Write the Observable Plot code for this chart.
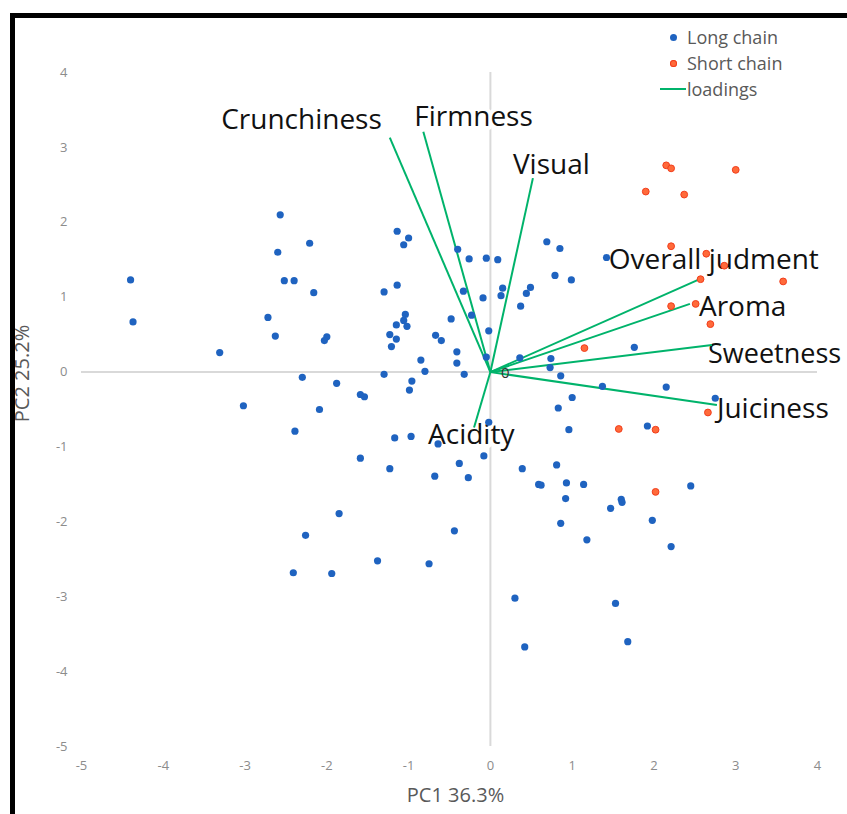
<!DOCTYPE html>
<html>
<head>
<meta charset="utf-8">
<script src="https://cdn.jsdelivr.net/npm/d3@7"></script>
<script src="https://cdn.jsdelivr.net/npm/@observablehq/plot@0.6"></script>
<style>
  html, body { margin: 0; padding: 0; background: #fff; overflow: hidden; }
  #wrap { position: relative; width: 847px; height: 814px; }
  #frame { position: absolute; left: 10px; top: 13px; width: 900px; height: 900px;
           border: 5px solid #000; box-sizing: border-box; pointer-events: none; }
  #legend { position: absolute; left: 659px; top: 24px; font-family: "Open Sans", sans-serif;
            font-size: 18px; color: #595959; line-height: 26px; }
  #legend .row { display: flex; align-items: center; height: 26px; }
  #legend .sym { width: 28px; display: flex; justify-content: center; align-items: center; }
  #legend .dot { width: 7px; height: 7px; border-radius: 50%; }
</style>
</head>
<body>
<div id="wrap">
  <div id="chart"></div>
  <div id="legend"></div>
  <div id="frame"></div>
</div>
<script>
// ---- data ----
const longX = [-4.40,-4.37,-2.57,-2.21,-2.60,-2.52,-2.40,-2.16,-2.72,-2.63,-3.31,-2.00,-2.03,-2.30,-1.88,-3.02,-2.09,
  -1.14,-1.00,-1.06,-0.40,-0.26,-0.05,0.09,0.69,0.85,-1.14,-1.30,0.79,0.99,-0.33,-0.09,0.15,0.13,0.49,0.44,0.37,
  -1.04,-1.15,-1.06,-1.02,-1.23,-1.15,-1.21,-0.48,-0.23,-0.67,-0.60,-0.02,-0.41,-0.41,-0.05,-0.85,-0.80,-1.30,-0.32,
  0.36,0.74,0.73,0.86,-0.96,-0.99,-1.59,-1.54,1.00,0.83,0.96,-0.02,-1.17,-0.97,-0.64,-1.59,-1.23,-0.38,-0.08,-0.68,
  -0.27,0.39,0.81,-2.39,0.59,0.62,-1.85,-0.44,-2.26,-1.38,-0.75,-2.41,-1.94,0.30,0.93,1.14,2.45,0.92,1.60,1.61,1.47,
  0.86,1.98,1.18,2.21,1.53,0.42,1.68,1.76,1.37,2.15,2.75,1.92,1.42];
const longY = [1.23,0.67,2.10,1.72,1.60,1.22,1.22,1.06,0.73,0.48,0.26,0.47,0.42,-0.07,-0.15,-0.45,-0.50,
  1.88,1.79,1.70,1.64,1.51,1.52,1.50,1.74,1.65,1.16,1.07,1.29,1.23,1.08,0.99,1.12,1.02,1.13,1.05,0.88,
  0.77,0.63,0.69,0.61,0.50,0.44,0.34,0.71,0.76,0.49,0.42,0.55,0.27,0.12,0.20,0.16,0.01,-0.03,-0.03,
  0.19,0.18,0.06,-0.05,-0.12,-0.24,-0.30,-0.33,-0.34,-0.48,-0.77,-0.67,-0.88,-0.86,-0.96,-1.15,-1.29,-1.22,-1.12,-1.39,
  -1.41,-1.29,-1.24,-0.79,-1.50,-1.51,-1.89,-2.12,-2.18,-2.52,-2.56,-2.68,-2.69,-3.02,-1.48,-1.50,-1.52,-1.69,-1.70,-1.74,-1.82,
  -2.02,-1.98,-2.24,-2.33,-3.09,-3.67,-3.60,0.33,-0.19,-0.20,-0.35,-0.72,1.53];

const shortX = [2.15,2.21,3.00,1.90,2.37,2.21,2.64,2.86,2.57,3.58,2.21,2.51,2.69,1.15,2.66,1.57,2.02,2.02];
const shortY = [2.76,2.72,2.70,2.41,2.37,1.68,1.58,1.42,1.24,1.21,0.88,0.91,0.64,0.32,-0.54,-0.76,-0.77,-1.60];

const loadingNames = ["Crunchiness","Firmness","Visual","Overall judment","Aroma","Sweetness","Juiciness","Acidity"];
const loadingX = [-1.23,-0.82,0.52,2.56,2.44,2.71,2.77,-0.20];
const loadingY = [3.13,3.21,2.59,1.24,0.91,0.36,-0.44,-0.74];

const xTicks = [-5,-4,-3,-2,-1,0,1,2,3,4];
const yTicks = [-5,-4,-3,-2,-1,0,1,2,3,4];
const seriesNames = ["Long chain","Short chain","loadings"];
const axisTitles = {x: "PC1 36.3%", y: "PC2 25.2%"};

// label placement (pixel offsets from each loading's tip)
const labelDx = [-8,-9,-20,-91,9,-4,0,-46];
const labelDy = [-9,-6,-4,-10,12,18,13,17];
const labelAnchor = ["end","start","start","start","start","start","start","start"];
const labelSize = [28,28,28,28,28,27,28,28];

// ---- build tables ----
const longPts = longX.map((x,i) => ({x, y: longY[i]}));
const shortPts = shortX.map((x,i) => ({x, y: shortY[i]}));
const loadings = loadingNames.map((name,i) => ({name, x: loadingX[i], y: loadingY[i]}));

const BLUE = "#1f63c0", RED_FILL = "#ff6a3a", RED_STROKE = "#f23d1c", GREEN = "#00b36b";

const labelMarks = loadings.map((d,i) => Plot.text([d], {
  x: "x", y: "y", text: "name", dx: labelDx[i], dy: labelDy[i],
  textAnchor: labelAnchor[i], lineAnchor: "bottom",
  fontSize: labelSize[i], fill: "#111", stroke: "white", strokeWidth: 8,
  paintOrder: "stroke", strokeLinejoin: "round"
}));

const chart = Plot.plot({
  width: 847,
  height: 814,
  marginLeft: 81,
  marginRight: 30,
  marginTop: 72,
  marginBottom: 68,
  style: {fontFamily: "'Open Sans', sans-serif", background: "transparent", overflow: "visible"},
  x: {domain: [-5, 4]},
  y: {domain: [-5, 4]},
  marks: [
    Plot.ruleY([0], {stroke: "#d9d9d9", strokeWidth: 2}),
    Plot.ruleX([0], {stroke: "#d9d9d9", strokeWidth: 2}),
    Plot.axisX({ticks: xTicks, tickSize: 0, tickPadding: 14, fontSize: 13, fill: "#8c8c8c",
      tickFormat: d => String(d), label: null}),
    Plot.axisY({ticks: yTicks, tickSize: 0, tickPadding: 14, fontSize: 13, fill: "#8c8c8c",
      tickFormat: d => String(d), label: null}),
    Plot.text([axisTitles.x], {frameAnchor: "bottom", textAnchor: "middle", dx: 6, dy: 49, lineAnchor: "middle",
      fontSize: 20, fill: "#595959"}),
    Plot.text([axisTitles.y], {frameAnchor: "left", textAnchor: "middle", rotate: -90, dx: -59, dy: -36, lineAnchor: "middle",
      fontSize: 20, fill: "#595959"}),
    ...labelMarks,
    Plot.link(loadings, {x1: () => 0, y1: () => 0, x2: "x", y2: "y", stroke: GREEN, strokeWidth: 2}),
    Plot.dot(longPts, {x: "x", y: "y", r: 3.6, fill: BLUE}),
    Plot.dot(shortPts, {x: "x", y: "y", r: 3.4, fill: RED_FILL, stroke: RED_STROKE, strokeWidth: 1}),
    Plot.text(["0"], {x: () => 0, y: () => 0, dx: 15, dy: 1, fontSize: 15, fill: "#333", lineAnchor: "middle"})
  ]
});
document.getElementById("chart").appendChild(chart);

// legend
const legend = document.getElementById("legend");
const syms = [
  `<span class="dot" style="background:${BLUE}"></span>`,
  `<span class="dot" style="background:${RED_FILL};box-shadow:0 0 0 1px ${RED_STROKE} inset"></span>`,
  `<span style="display:block;width:26px;height:2.5px;background:${GREEN}"></span>`
];
legend.innerHTML = seriesNames.map((n,i) =>
  `<div class="row"><span class="sym">${syms[i]}</span><span>${n}</span></div>`).join("");
</script>
</body>
</html>
